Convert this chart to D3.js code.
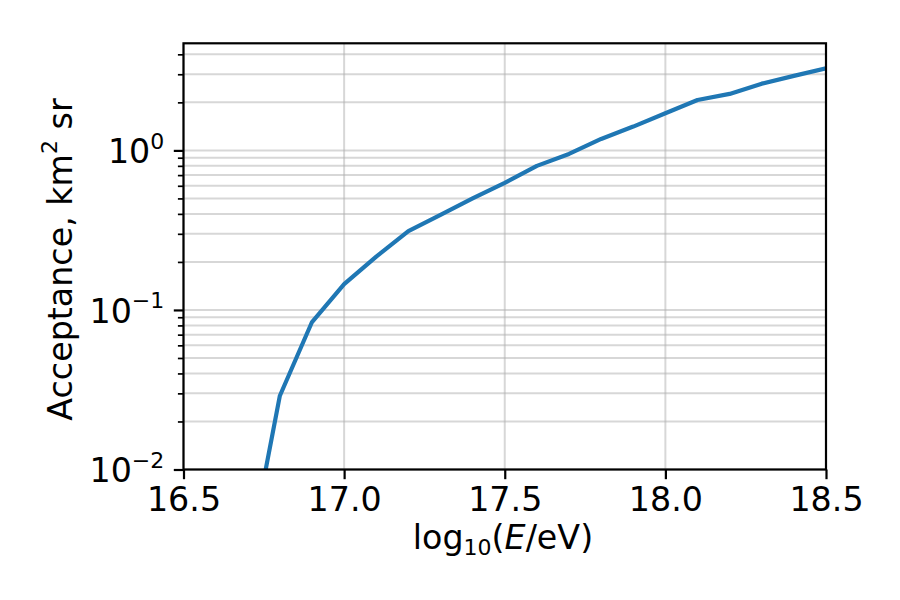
<!DOCTYPE html>
<html>
<head>
<meta charset="utf-8">
<script src="https://cdn.jsdelivr.net/npm/d3@7"></script>
<style>
  body { margin: 0; background: #fff; }
  svg text { font-family: "DejaVu Sans", sans-serif; fill: #000; }
</style>
</head>
<body>
<div id="chart"></div>
<script>
// log10(E/eV)
var logE = [16.7, 16.8, 16.9, 17.0, 17.1, 17.2, 17.3, 17.4, 17.5, 17.6,
            17.7, 17.8, 17.9, 18.0, 18.1, 18.2, 18.3, 18.4, 18.5];
// acceptance, km^2 sr
var acceptance = [0.0026, 0.029, 0.084, 0.145, 0.216, 0.312, 0.395, 0.50, 0.625, 0.80,
                  0.95, 1.18, 1.41, 1.71, 2.07, 2.26, 2.62, 2.93, 3.27];
var xTicks = [16.5, 17.0, 17.5, 18.0, 18.5];
var yDecades = [-2, -1, 0];

var width = 900, height = 600;
var m = {left: 183.5, right: 826, top: 43.3, bottom: 469.5};
var yMax = 4.69;
var fs = 33.3, fsSmall = 22;

var svg = d3.select("#chart").append("svg").attr("width", width).attr("height", height);

var x = d3.scaleLinear().domain([16.5, 18.5]).range([m.left, m.right]);
var y = d3.scaleLog().domain([0.01, yMax]).range([m.bottom, m.top]);

var plot = svg.append("g");
svg.append("clipPath").attr("id", "clip").append("rect")
    .attr("x", m.left).attr("y", m.top)
    .attr("width", m.right - m.left).attr("height", m.bottom - m.top);

// minor + major y values
var yMinor = [];
for (var k = -2; k <= 0; k++) {
  for (var j = 2; j <= 9; j++) {
    var v = j * Math.pow(10, k);
    if (v <= yMax) yMinor.push(v);
  }
}
var yMajor = yDecades.map(function(d){ return Math.pow(10, d); });

// grid
var grid = plot.append("g").attr("stroke", "#b0b0b0").attr("stroke-opacity", 0.5).attr("stroke-width", 2);
grid.selectAll("line.gy").data(yMinor.concat(yMajor)).enter().append("line")
    .attr("x1", m.left).attr("x2", m.right)
    .attr("y1", function(d){ return y(d); }).attr("y2", function(d){ return y(d); });
grid.selectAll("line.gx").data(xTicks).enter().append("line")
    .attr("y1", m.top).attr("y2", m.bottom)
    .attr("x1", function(d){ return x(d); }).attr("x2", function(d){ return x(d); });

// data line
var line = d3.line().x(function(d){ return x(d[0]); }).y(function(d){ return y(d[1]); });
plot.append("path")
    .datum(logE.map(function(d, i){ return [d, acceptance[i]]; }))
    .attr("clip-path", "url(#clip)")
    .attr("d", line)
    .attr("fill", "none")
    .attr("stroke", "#1f77b4")
    .attr("stroke-width", 4.2)
    .attr("stroke-linejoin", "round");

// spines
svg.append("rect")
    .attr("x", m.left).attr("y", m.top)
    .attr("width", m.right - m.left).attr("height", m.bottom - m.top)
    .attr("fill", "none").attr("stroke", "#000").attr("stroke-width", 2.2);

// x axis
var xAxis = d3.axisBottom(x).tickValues(xTicks).tickFormat(d3.format(".1f")).tickSizeOuter(0).tickSize(9.7).tickPadding(9.7);
var gx = svg.append("g").attr("transform", "translate(0," + m.bottom + ")").call(xAxis);
gx.select(".domain").remove();
gx.selectAll(".tick line").attr("stroke-width", 2.2);
gx.selectAll(".tick text").attr("font-size", fs).attr("font-family", "DejaVu Sans").attr("y", 41.2).attr("dy", null);

// y axis: minor ticks
var gyMinor = svg.append("g").attr("transform", "translate(" + m.left + ",0)")
    .call(d3.axisLeft(y).tickValues(yMinor).tickSize(5.6).tickFormat(""));
gyMinor.select(".domain").remove();
gyMinor.selectAll(".tick line").attr("stroke-width", 1.7);

// y axis: major ticks
var gy = svg.append("g").attr("transform", "translate(" + m.left + ",0)")
    .call(d3.axisLeft(y).tickValues(yMajor).tickSize(9.7).tickFormat(""));
gy.select(".domain").remove();
gy.selectAll(".tick line").attr("stroke-width", 2.2);

var ylab = svg.append("g").selectAll("text").data(yDecades).enter().append("text")
    .attr("x", m.left - 19.2)
    .attr("y", function(d){ return y(Math.pow(10, d)) + 12.6; })
    .attr("text-anchor", "end")
    .attr("font-size", fs);
ylab.append("tspan").text("10");
ylab.append("tspan").attr("dy", -14.3).attr("font-size", fsSmall)
    .text(function(d){ return d < 0 ? "\u2212" + Math.abs(d) : String(d); });

// axis titles
var xt = svg.append("text")
    .attr("x", 503).attr("y", 549.3)
    .attr("text-anchor", "middle").attr("font-size", fs);
xt.append("tspan").text("log");
xt.append("tspan").attr("font-size", fsSmall).attr("dy", 6).text("10");
xt.append("tspan").attr("dy", -6).text("(");
xt.append("tspan").attr("font-style", "italic").text("E");
xt.append("tspan").text("/eV)");

var yt = svg.append("text")
    .attr("transform", "translate(71.7,259.5) rotate(-90)")
    .attr("text-anchor", "middle").attr("font-size", fs);
yt.append("tspan").text("Acceptance, km");
yt.append("tspan").attr("font-size", fsSmall).attr("dy", -15).text("2");
yt.append("tspan").attr("dy", 15).text(" sr");
</script>
</body>
</html>
